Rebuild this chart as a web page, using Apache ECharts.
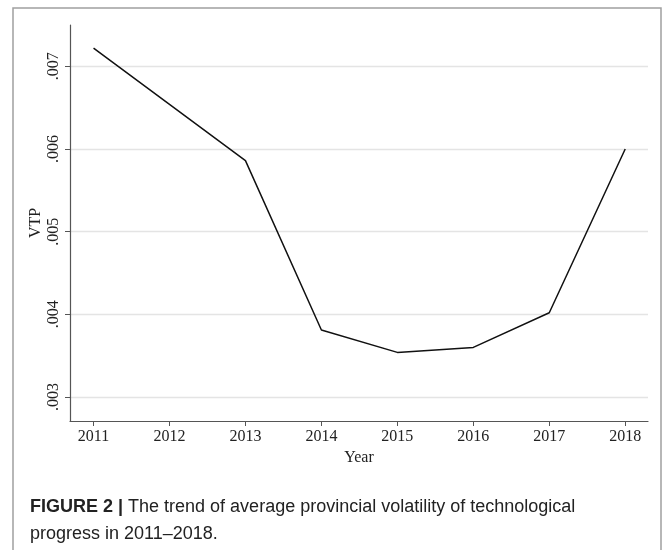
<!DOCTYPE html>
<html>
<head>
<meta charset="utf-8">
<script src="https://cdn.jsdelivr.net/npm/echarts@6/dist/echarts.min.js"></script>
<style>html,body{margin:0;padding:0;background:#fff;}#c{width:663px;height:550px;}</style>
</head>
<body>
<div id="c"></div>
<script>
const years = [2011, 2012, 2013, 2014, 2015, 2016, 2017, 2018];
const vtp = [0.00722, 0.00654, 0.00586, 0.00381, 0.00354, 0.00360, 0.00402, 0.00600];
const yTicks = [0.003, 0.004, 0.005, 0.006, 0.007];
const yTickLabels = ['.003', '.004', '.005', '.006', '.007'];

const chart = echarts.init(document.getElementById('c'));
const serif = '"Liberation Serif", "DejaVu Serif", serif';
chart.setOption({
  animation: false,
  grid: { left: 70, right: 15, top: 25, bottom: 129 },
  xAxis: {
    type: 'value', min: 2010.69, max: 2018.3,
    name: 'Year', nameLocation: 'middle', nameGap: 28,
    nameTextStyle: { fontFamily: serif, fontSize: 16, color: '#222' },
    axisLine: { lineStyle: { color: '#555', width: 1.2 } },
    axisTick: { show: true, length: 5, customValues: years, lineStyle: { color: '#555' } },
    axisLabel: { customValues: years, fontFamily: serif, fontSize: 16, color: '#222', margin: 8, formatter: v => String(Math.round(v)) },
    splitLine: { show: false }
  },
  yAxis: {
    type: 'value', min: 0.00271, max: 0.0075,
    name: 'VTP', nameLocation: 'middle', nameGap: 26, nameRotate: 90, nameMoveOverlap: false,
    nameTextStyle: { fontFamily: serif, fontSize: 16, color: '#222' },
    axisLine: { show: true, lineStyle: { color: '#555', width: 1.2 } },
    axisTick: { show: true, length: 5, customValues: yTicks, lineStyle: { color: '#555' } },
    axisLabel: { customValues: yTicks, rotate: 90, fontFamily: serif, fontSize: 16, color: '#222', margin: 8,
      formatter: v => { const i = yTicks.findIndex(t => Math.abs(t - v) < 1e-9); return i >= 0 ? yTickLabels[i] : ''; } },
    splitLine: { show: true, lineStyle: { color: '#e4e4e4', width: 1.3 } }
  },
  series: [{
    type: 'line', data: years.map((y, i) => [y, vtp[i]]),
    symbol: 'none', lineStyle: { color: '#111', width: 1.5 }
  }],
  graphic: [
    { type: 'rect', shape: { x: 13, y: 8, width: 648, height: 600 }, style: { fill: 'none', stroke: '#a0a0a0', lineWidth: 1.5 }, silent: true },
    { type: 'text', left: 30, top: 494, style: {
        text: '{b|FIGURE 2 |} The trend of average provincial volatility of technological\nprogress in 2011\u20132018.',
        font: '18px "Liberation Sans", Arial, sans-serif', fill: '#222', lineHeight: 27,
        rich: { b: { fontWeight: 'bold', fontSize: 18, fontFamily: '"Liberation Sans", Arial, sans-serif', fill: '#222' } }
    } }
  ]
});
</script>
</body>
</html>
